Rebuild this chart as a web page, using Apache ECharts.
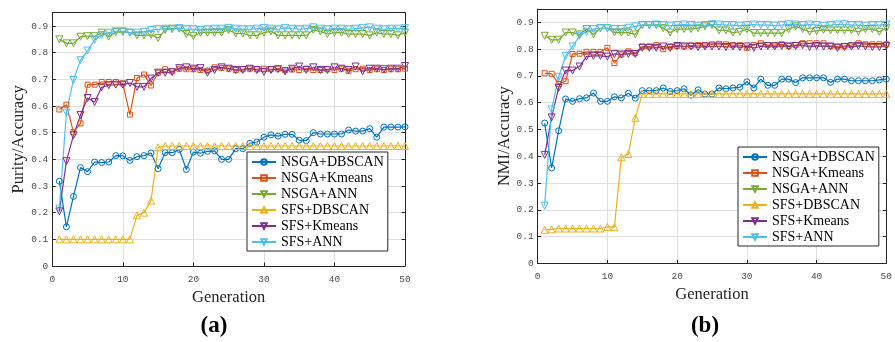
<!DOCTYPE html>
<html>
<head>
<meta charset="utf-8">
<script src="https://cdn.jsdelivr.net/npm/echarts@6/dist/echarts.min.js"></script>
<style>
  html, body { margin: 0; padding: 0; background: #fff; }
  #main { width: 895px; height: 342px; }
</style>
</head>
<body>
<div id="main"></div>
<script>
// generations (x)
var gens = [1,2,3,4,5,6,7,8,9,10,11,12,13,14,15,16,17,18,19,20,21,22,23,24,25,
  26,27,28,29,30,31,32,33,34,35,36,37,38,39,40,41,42,43,44,45,46,47,48,49,50];

var names = ['NSGA+DBSCAN', 'NSGA+Kmeans', 'NSGA+ANN', 'SFS+DBSCAN', 'SFS+Kmeans', 'SFS+ANN'];

// (a) Purity/Accuracy
var a_nsgaDb = [0.318,0.147,0.261,0.369,0.354,0.39,0.388,0.39,0.414,0.413,
  0.396,0.41,0.414,0.424,0.365,0.425,0.425,0.437,0.362,0.427,
  0.423,0.43,0.432,0.4,0.4,0.44,0.44,0.46,0.465,0.483,
  0.492,0.487,0.494,0.494,0.472,0.47,0.5,0.495,0.495,0.495,
  0.495,0.51,0.506,0.506,0.515,0.483,0.521,0.521,0.521,0.522];
var a_nsgaKm = [0.587,0.605,0.502,0.535,0.68,0.68,0.69,0.69,0.69,0.685,
  0.568,0.705,0.718,0.677,0.725,0.738,0.73,0.74,0.738,0.738,
  0.735,0.733,0.745,0.743,0.74,0.735,0.738,0.74,0.738,0.74,
  0.738,0.74,0.735,0.737,0.735,0.74,0.735,0.735,0.738,0.735,
  0.74,0.732,0.738,0.74,0.735,0.738,0.735,0.738,0.738,0.74];
var a_nsgaAnn = [0.85,0.835,0.835,0.86,0.862,0.862,0.875,0.86,0.877,0.878,
  0.875,0.865,0.865,0.867,0.855,0.885,0.89,0.89,0.87,0.862,
  0.875,0.875,0.875,0.875,0.885,0.872,0.872,0.865,0.865,0.875,
  0.88,0.865,0.865,0.865,0.865,0.865,0.885,0.88,0.87,0.875,
  0.875,0.87,0.87,0.87,0.865,0.875,0.87,0.87,0.865,0.875];
var a_sfsDb = [0.1,0.1,0.1,0.1,0.1,0.1,0.1,0.1,0.1,0.1,
  0.1,0.19,0.2,0.245,0.445,0.45,0.45,0.45,0.45,0.45,
  0.45,0.45,0.45,0.45,0.45,0.45,0.45,0.45,0.45,0.45,
  0.45,0.45,0.45,0.45,0.45,0.45,0.45,0.45,0.45,0.45,
  0.45,0.45,0.45,0.45,0.45,0.45,0.45,0.45,0.45,0.45];
var a_sfsKm = [0.205,0.393,0.49,0.566,0.63,0.615,0.67,0.678,0.68,0.68,
  0.686,0.672,0.672,0.703,0.725,0.725,0.727,0.742,0.745,0.74,
  0.742,0.725,0.735,0.745,0.74,0.735,0.735,0.74,0.735,0.728,
  0.735,0.738,0.73,0.74,0.748,0.735,0.745,0.735,0.735,0.745,
  0.74,0.735,0.748,0.73,0.74,0.74,0.738,0.74,0.74,0.75];
var a_sfsAnn = [0.215,0.575,0.698,0.772,0.808,0.848,0.866,0.875,0.88,0.88,
  0.875,0.875,0.878,0.885,0.888,0.89,0.888,0.892,0.888,0.888,
  0.885,0.888,0.89,0.89,0.893,0.89,0.888,0.888,0.89,0.893,
  0.89,0.888,0.893,0.89,0.888,0.89,0.895,0.89,0.888,0.89,
  0.89,0.888,0.89,0.893,0.895,0.89,0.888,0.89,0.89,0.892];

// (b) NMI/Accuracy
var b_nsgaDb = [0.524,0.356,0.495,0.614,0.605,0.615,0.618,0.636,0.605,0.605,
  0.622,0.618,0.635,0.617,0.645,0.645,0.645,0.655,0.642,0.645,
  0.652,0.628,0.648,0.632,0.632,0.655,0.652,0.655,0.658,0.678,
  0.655,0.688,0.665,0.665,0.688,0.688,0.675,0.693,0.693,0.693,
  0.693,0.676,0.688,0.688,0.682,0.682,0.682,0.682,0.685,0.688];
var b_nsgaKm = [0.71,0.708,0.67,0.68,0.782,0.783,0.79,0.79,0.79,0.805,
  0.748,0.78,0.792,0.785,0.81,0.81,0.815,0.8,0.81,0.812,
  0.81,0.813,0.815,0.815,0.818,0.82,0.818,0.815,0.815,0.805,
  0.815,0.822,0.815,0.815,0.818,0.812,0.815,0.822,0.822,0.822,
  0.822,0.812,0.81,0.812,0.815,0.822,0.818,0.818,0.818,0.818];
var b_nsgaAnn = [0.85,0.835,0.835,0.862,0.862,0.855,0.875,0.855,0.878,0.878,
  0.862,0.862,0.862,0.855,0.89,0.89,0.89,0.878,0.862,0.875,
  0.875,0.875,0.878,0.885,0.89,0.87,0.87,0.862,0.865,0.875,
  0.86,0.86,0.86,0.86,0.86,0.875,0.885,0.875,0.865,0.868,
  0.872,0.87,0.87,0.87,0.87,0.865,0.875,0.875,0.865,0.878];
var b_sfsDb = [0.125,0.127,0.13,0.13,0.13,0.13,0.13,0.13,0.13,0.136,
  0.135,0.396,0.408,0.543,0.633,0.633,0.633,0.633,0.633,0.633,
  0.633,0.633,0.633,0.633,0.633,0.633,0.633,0.633,0.633,0.633,
  0.633,0.633,0.633,0.633,0.633,0.633,0.633,0.633,0.633,0.633,
  0.633,0.633,0.633,0.633,0.633,0.633,0.633,0.633,0.633,0.633];
var b_sfsKm = [0.405,0.545,0.655,0.72,0.72,0.735,0.772,0.775,0.775,0.772,
  0.782,0.78,0.782,0.782,0.805,0.805,0.805,0.81,0.805,0.812,
  0.81,0.81,0.808,0.81,0.81,0.81,0.808,0.81,0.808,0.81,
  0.805,0.81,0.812,0.81,0.812,0.81,0.812,0.815,0.808,0.812,
  0.81,0.81,0.805,0.808,0.81,0.812,0.81,0.808,0.808,0.812];
var b_sfsAnn = [0.215,0.575,0.695,0.775,0.81,0.85,0.865,0.875,0.878,0.878,
  0.875,0.875,0.88,0.885,0.89,0.89,0.892,0.89,0.888,0.89,
  0.892,0.89,0.888,0.89,0.893,0.892,0.89,0.89,0.888,0.89,
  0.892,0.89,0.89,0.888,0.89,0.893,0.892,0.89,0.892,0.89,
  0.888,0.89,0.892,0.893,0.89,0.89,0.888,0.89,0.89,0.892];

var colors = ['#0072BD', '#D95319', '#77AC30', '#EDB120', '#7E2F8E', '#4DBEEE'];
var symbols = ['circle', 'rect', 'triangle', 'triangle', 'triangle', 'triangle'];
var rots = [0, 0, 180, 0, 180, 180];
var sizes = [6, 5, 7, 7, 7, 7];

var chartA = [a_nsgaDb, a_nsgaKm, a_nsgaAnn, a_sfsDb, a_sfsKm, a_sfsAnn];
var chartB = [b_nsgaDb, b_nsgaKm, b_nsgaAnn, b_sfsDb, b_sfsKm, b_sfsAnn];

var myChart = echarts.init(document.getElementById('main'));

var serif = 'Liberation Serif';
var mono = 'Liberation Mono';
var axisCol = '#262626';

function fmtY(v) {
  if (v > 0.91) return '';
  return v === 0 ? '0' : (Math.round(v * 10) / 10).toFixed(1);
}

function mainX(grid) {
  return {
    type: 'value', gridIndex: grid, min: 0, max: 50, interval: 10,
    name: 'Generation', nameLocation: 'middle', nameGap: 21,
    nameTextStyle: { fontFamily: serif, fontSize: 16.5, color: '#262626' },
    axisLine: { onZero: false, lineStyle: { color: axisCol, width: 1 } },
    axisTick: { inside: true, length: 3.5, lineStyle: { color: axisCol } },
    axisLabel: { fontFamily: mono, fontSize: 9.5, color: '#4d4d4d', margin: 8 },
    splitLine: { show: true, lineStyle: { color: '#dfdfdf', width: 1 } }
  };
}
function topX(grid) {
  return {
    type: 'value', gridIndex: grid, position: 'top', min: 0, max: 50, interval: 10,
    axisLine: { onZero: false, lineStyle: { color: axisCol, width: 1 } },
    axisTick: { inside: true, length: 3.5, lineStyle: { color: axisCol } },
    axisLabel: { show: false }, splitLine: { show: false }
  };
}
function mainY(grid, name) {
  return {
    type: 'value', gridIndex: grid, min: 0, max: 0.95, interval: 0.1,
    name: name, nameLocation: 'middle', nameGap: 23,
    nameTextStyle: { fontFamily: serif, fontSize: 16.5, color: '#262626' },
    axisLine: { show: true, onZero: false, lineStyle: { color: axisCol, width: 1 } },
    axisTick: { show: true, inside: true, length: 3.5, lineStyle: { color: axisCol } },
    axisLabel: { fontFamily: mono, fontSize: 9.5, color: '#4d4d4d', margin: 4, formatter: fmtY },
    splitLine: { show: true, lineStyle: { color: '#dfdfdf', width: 1 } }
  };
}
function rightY(grid) {
  return {
    type: 'value', gridIndex: grid, position: 'right', min: 0, max: 0.95, interval: 0.1,
    axisLine: { show: true, onZero: false, lineStyle: { color: axisCol, width: 1 } },
    axisTick: { show: true, inside: true, length: 3.5, lineStyle: { color: axisCol } },
    axisLabel: { show: false }, splitLine: { show: false }
  };
}

var series = [];
function addSeries(sets, axisIdx) {
  sets.forEach(function (vals, i) {
    series.push({
      name: names[i], type: 'line',
      xAxisIndex: axisIdx, yAxisIndex: axisIdx,
      data: vals.map(function (v, k) { return [gens[k], v]; }),
      symbol: symbols[i], symbolSize: sizes[i], symbolRotate: rots[i],
      showAllSymbol: true,
      lineStyle: { color: colors[i], width: 1.2 },
      itemStyle: { color: 'rgba(255,255,255,0)', borderColor: colors[i], borderWidth: 1 },
      emphasis: { disabled: true },
      animation: false
    });
  });
}
addSeries(chartA, 0);
addSeries(chartB, 2);

function legendAt(left, top) {
  return {
    orient: 'vertical', left: left, top: top,
    data: names,
    itemWidth: 24, itemHeight: 7, itemGap: 0,
    padding: [2, 4, 1, 4],
    borderColor: axisCol, borderWidth: 1, borderRadius: 0,
    backgroundColor: '#fff',
    textStyle: { fontFamily: serif, fontSize: 14, color: '#000', lineHeight: 16 }
  };
}

var option = {
  backgroundColor: '#fff',
  animation: false,
  grid: [
    { left: 52.3, top: 12.7, width: 352.7, height: 253.3 },
    { left: 537.7, top: 9, width: 352.3, height: 254.3 }
  ],
  xAxis: [mainX(0), topX(0), mainX(1), topX(1)],
  yAxis: [mainY(0, 'Purity/Accuracy'), rightY(0), mainY(1, 'NMI/Accuracy'), rightY(1)],
  legend: [legendAt(247, 152), legendAt(738, 147)],
  series: series,
  graphic: [
    { type: 'text', x: 214, y: 326, style: { text: '(a)', font: 'bold 23px "Liberation Serif"', fill: '#000', align: 'center', verticalAlign: 'middle', textAlign: 'center', textVerticalAlign: 'middle' } },
    { type: 'text', x: 705, y: 326, style: { text: '(b)', font: 'bold 23px "Liberation Serif"', fill: '#000', align: 'center', verticalAlign: 'middle', textAlign: 'center', textVerticalAlign: 'middle' } }
  ]
};

myChart.setOption(option);
window.onresize = myChart.resize;
</script>
</body>
</html>
